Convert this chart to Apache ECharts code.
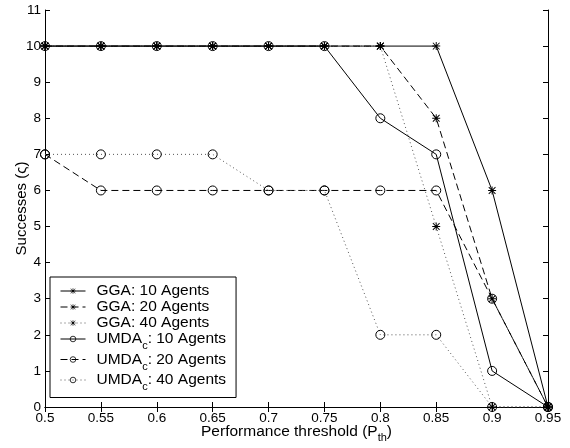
<!DOCTYPE html>
<html>
<head>
<meta charset="utf-8">
<script src="https://cdn.jsdelivr.net/npm/echarts@6/dist/echarts.min.js"></script>
<style>
  html, body { margin: 0; padding: 0; background: #fff; }
  #main { width: 570px; height: 448px; }
</style>
</head>
<body>
<div id="main"></div>
<script>
// performance thresholds (x)
var thresholds = [0.5, 0.55, 0.6, 0.65, 0.7, 0.75, 0.8, 0.85, 0.9, 0.95];
var xTicks = ['0.5', '0.55', '0.6', '0.65', '0.7', '0.75', '0.8', '0.85', '0.9', '0.95'];
// successes per algorithm
var gga10 = [10, 10, 10, 10, 10, 10, 10, 10, 6, 0];
var gga20 = [10, 10, 10, 10, 10, 10, 10, 8, 3, 0];
var gga40 = [10, 10, 10, 10, 10, 10, 10, 5, 0, 0];
var umda10 = [10, 10, 10, 10, 10, 10, 8, 7, 1, 0];
var umda20 = [7, 6, 6, 6, 6, 6, 6, 6, 3, 0];
var umda40 = [7, 7, 7, 7, 6, 6, 2, 2, 0, 0];

var FONT = '"Liberation Sans", Arial, sans-serif';
// asterisk marker (4 crossing bars)
var STAR = 'path://M0,4.4L10,4.4L10,5.6L0,5.6Z M4.4,0L5.6,0L5.6,10L4.4,10Z ' +
  'M1.2,0.4L9.6,8.8L8.8,9.6L0.4,1.2Z M8.8,0.4L9.6,1.2L1.2,9.6L0.4,8.8Z';

function pairs(ys) {
  return ys.map(function (y, i) { return [thresholds[i], y]; });
}

function mk(name, ys, dash, star) {
  return {
    name: name,
    type: 'line',
    data: pairs(ys),
    symbol: star ? STAR : 'circle',
    symbolSize: star ? 8 : 9,
    showSymbol: true,
    animation: false,
    lineStyle: { color: dash === 'dotted' ? '#555' : '#000', width: 1,
      type: dash === 'solid' ? 'solid' : (dash === 'dashed' ? [7, 4] : [1, 3]) },
    itemStyle: star ? { color: '#000', borderWidth: 0 }
      : { color: 'rgba(0,0,0,0)', borderColor: '#000', borderWidth: 1 }
  };
}

var myChart = echarts.init(document.getElementById('main'));
var option = {
  backgroundColor: '#fff',
  textStyle: { fontFamily: FONT },
  grid: { left: 45, right: 22, top: 10, bottom: 41, outerBoundsMode: 'none' },
  legend: {
    left: 50, top: 277,
    orient: 'vertical',
    backgroundColor: '#fff',
    borderColor: '#000', borderWidth: 1,
    padding: [6, 10, 5, 10],
    itemWidth: 25, itemHeight: 7, itemGap: 0,
    lineStyle: { width: 1 },
    itemStyle: { borderWidth: 0.8 },
    textStyle: {
      fontFamily: FONT, fontSize: 15.5, color: '#000', padding: [0, 0, 0, 6],
      rich: {
        n: { fontFamily: FONT, fontSize: 15.5, color: '#000' },
        s: { fontFamily: FONT, fontSize: 11, color: '#000', padding: [14, 0, 0, 0] }
      }
    },
    formatter: function (name) {
      if (name.indexOf('UMDA_c') === 0) {
        return '{n|UMDA}{s|c}{n|' + name.slice(6) + '}';
      }
      return name;
    },
    data: ['GGA: 10 Agents', 'GGA: 20 Agents', 'GGA: 40 Agents',
      'UMDA_c: 10 Agents', 'UMDA_c: 20 Agents', 'UMDA_c: 40 Agents']
  },
  xAxis: [{
    type: 'value', min: 0.5, max: 0.95, interval: 0.05,
    name: '{n|Performance threshold (P}{s|th}{n|)}',
    nameLocation: 'middle', nameGap: 14, nameMoveOverlap: false,
    nameTextStyle: {
      rich: {
        n: { fontFamily: FONT, fontSize: 15.5, color: '#000' },
        s: { fontFamily: FONT, fontSize: 11, color: '#000', padding: [11, 0, 0, 0] }
      }
    },
    axisLine: { lineStyle: { color: '#000', width: 1 } },
    axisTick: { inside: true, length: 5, lineStyle: { color: '#000' } },
    axisLabel: { color: '#000', fontSize: 13.5, fontFamily: FONT, margin: 4,
      formatter: function (v) {
        var i = thresholds.findIndex(function (t) { return Math.abs(t - v) < 1e-6; });
        return i >= 0 ? xTicks[i] : '';
      } },
    splitLine: { show: false }
  }, {
    type: 'value', min: 0.5, max: 0.95, interval: 0.05, position: 'top',
    axisLine: { lineStyle: { color: '#000', width: 1 } },
    axisTick: { inside: true, length: 5, lineStyle: { color: '#000' } },
    axisLabel: { show: false },
    splitLine: { show: false }
  }],
  yAxis: [{
    type: 'value', min: 0, max: 11, interval: 1,
    name: 'Successes (ς)',
    nameLocation: 'middle', nameGap: 16, nameMoveOverlap: false,
    nameTextStyle: { fontFamily: FONT, fontSize: 15, color: '#000' },
    axisLine: { show: true, lineStyle: { color: '#000', width: 1 } },
    axisTick: { show: true, inside: true, length: 5, lineStyle: { color: '#000' } },
    axisLabel: { color: '#000', fontSize: 13.5, fontFamily: FONT, margin: 4 },
    splitLine: { show: false }
  }, {
    type: 'value', min: 0, max: 11, interval: 1, position: 'right',
    axisLine: { show: true, lineStyle: { color: '#000', width: 1 } },
    axisTick: { show: true, inside: true, length: 5, lineStyle: { color: '#000' } },
    axisLabel: { show: false },
    splitLine: { show: false }
  }],
  series: [
    mk('GGA: 10 Agents', gga10, 'solid', true),
    mk('GGA: 20 Agents', gga20, 'dashed', true),
    mk('GGA: 40 Agents', gga40, 'dotted', true),
    mk('UMDA_c: 10 Agents', umda10, 'solid', false),
    mk('UMDA_c: 20 Agents', umda20, 'dashed', false),
    mk('UMDA_c: 40 Agents', umda40, 'dotted', false)
  ]
};
myChart.setOption(option);
window.addEventListener('resize', function () { myChart.resize(); });
</script>
</body>
</html>
